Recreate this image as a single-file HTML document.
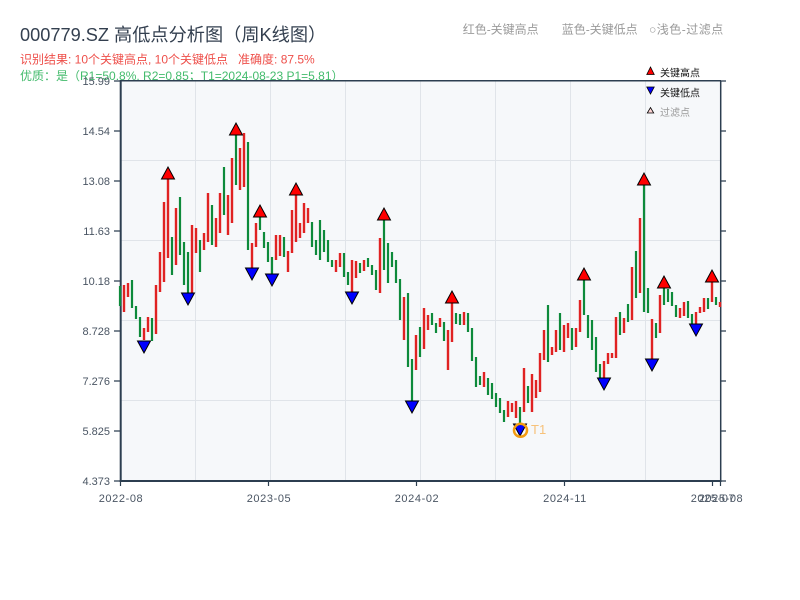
<!DOCTYPE html>
<html><head><meta charset="utf-8"><style>
html,body{margin:0;padding:0;background:#fff;width:800px;height:600px;overflow:hidden}
svg{display:block}
text{font-family:"Liberation Sans","Noto Sans CJK SC",sans-serif}
</style></head><body>
<svg width="800" height="600" viewBox="0 0 800 600" xmlns="http://www.w3.org/2000/svg">
<rect x="0" y="0" width="800" height="600" fill="#fff"/>
<text x="20" y="41" font-size="18.2" fill="#333f4f">000779.SZ 高低点分析图（周K线图）</text>
<text x="20" y="63.3" font-size="12" fill="#ee4f4a">识别结果: 10个关键高点, 10个关键低点 &#160;&#160;准确度: 87.5%</text>
<text x="20" y="80.2" font-size="12" fill="#43bb6c">优质：是（R1=50.8%, R2=0.85；T1=2024-08-23 P1=5.81）</text>
<text x="462.7" y="33.5" font-size="12" fill="#9a9a9a">红色-关键高点</text>
<text x="561.7" y="33.5" font-size="12" fill="#9a9a9a">蓝色-关键低点</text>
<text x="649" y="33.5" font-size="12" fill="#9a9a9a" letter-spacing="0.5">○浅色-过滤点</text>

<rect x="121" y="81" width="599" height="400" fill="#f6f8fa"/>
<path d="M195.5 81V481M270.5 81V481M345.5 81V481M420.5 81V481M495.5 81V481M570.5 81V481M645.5 81V481M121 160.5H720M121 240.5H720M121 320.5H720M121 400.5H720" stroke="#e0e4e9" stroke-width="1" fill="none"/>

<path d="M120.7 80V482" stroke="#2c3e50" stroke-width="2"/>
<path d="M119.7 481H721.5" stroke="#2c3e50" stroke-width="2"/>
<path d="M720.7 80.5V482M120 80.7H721" stroke="#2c3e50" stroke-width="1.5"/>
<path d="M114 81h6M114 131h6M114 181h6M114 231h6M114 281h6M114 331h6M114 381h6M114 431h6M114 481h6M721 81h5M721 131h5M721 181h5M721 231h5M721 281h5M721 331h5M721 381h5M721 431h5M721 481h5M120.5 481v5M268.5 481v5M416.5 481v5M564.5 481v5M712.5 481v5M720.5 481v5" stroke="#2c3e50" stroke-width="1.2" fill="none"/>

<g font-size="11" fill="#4a5563" text-anchor="end">
<text x="110" y="85">15.99</text><text x="110" y="135">14.54</text><text x="110" y="185">13.08</text><text x="110" y="235">11.63</text><text x="110" y="285">10.18</text><text x="110" y="335">8.728</text><text x="110" y="385">7.276</text><text x="110" y="435">5.825</text><text x="110" y="485">4.373</text>
</g>
<g font-size="11" fill="#4a5563" text-anchor="middle" letter-spacing="0.6">
<text x="121" y="502">2022-08</text><text x="269" y="502">2023-05</text><text x="417" y="502">2024-02</text><text x="565" y="502">2024-11</text><text x="713" y="502">2025-07</text><text x="721" y="502">2025-08</text>
</g>

<path stroke="#0d8a3a" stroke-width="2.2" fill="none" d="M120 286V306M132 280V308M136 306V319M140 317V337M152 318V341M172 237V275M180 197V255M184 242V285M188 252V293M200 240V272M212 205V245M224 167V215M236 135V185M248 142V250M260 217V230M264 232V248M268 242V262M272 257V274M284 237V257M312 222V247M316 240V255M320 220V260M324 230V252M328 240V262M332 260V267M344 253V277M348 272V285M360 263V273M368 258V267M372 265V275M376 270V290M384 220V270M388 243V283M392 252V267M396 260V283M400 279V320M408 293V367M412 359V401M420 327V357M432 313V325M436 323V333M444 322V341M456 313V324M460 314V325M468 313V332M472 328V361M476 357V387M480 376V385M488 378V395M492 383V399M496 393V407M500 398V413M504 410V422M520 407V424M528 386V403M548 305V362M560 313V350M572 328V350M584 280V315M588 315V338M592 320V350M596 337V372M600 364V378M620 312V335M628 304V322M636 251V298M644 185V312M648 288V313M656 323V338M664 288V305M668 289V302M672 292V306M676 305V317M688 301V318M692 314V324M708 298V309M716 297V305"/>

<path stroke="#e02222" stroke-width="2.4" fill="none" d="M124 285V312M128 283V297M144 328V340M148 317V332M156 285V334M160 252V292M164 202V282M168 178V258M176 208V265M192 225V293M196 228V253M204 233V250M208 193V242M216 218V247M220 193V233M228 195V235M232 158V223M240 148V190M244 133V187M252 243V268M256 223V247M276 235V260M280 235V256M288 251V272M292 210V253M296 195V242M300 223V238M304 203V233M308 208V223M336 260V272M340 253V267M352 260V292M356 261V278M364 260V271M380 238V293M404 297V340M416 335V370M424 308V349M428 315V330M440 318V327M448 330V370M452 303V342M464 312V325M484 372V387M508 401V417M512 403V412M516 401V418M524 368V412M532 374V412M536 380V398M540 353V392M544 330V360M552 347V355M556 330V352M564 325V352M568 323V338M576 328V347M580 300V332M604 361V378M608 353V364M612 353V358M616 317V358M624 318V333M632 267V320M640 218V293M652 319V359M660 295V333M680 308V318M684 302V316M696 312V324M700 307V313M704 298V312M712 282V302M720 302V307"/>

<path fill="#ff0000" stroke="#000" stroke-width="1" d="M161.5 179h13l-6.5 -12zM229.5 135h13l-6.5 -12zM253.5 217h13l-6.5 -12zM289.5 195h13l-6.5 -12zM377.5 220h13l-6.5 -12zM445.5 303h13l-6.5 -12zM577.5 280h13l-6.5 -12zM637.5 185h13l-6.5 -12zM657.5 288h13l-6.5 -12zM705.5 282h13l-6.5 -12z"/>
<path fill="#0000ff" stroke="#000" stroke-width="1" d="M137.5 341h13l-6.5 12zM181.5 293h13l-6.5 12zM245.5 268h13l-6.5 12zM265.5 274h13l-6.5 12zM345.5 292h13l-6.5 12zM405.5 401h13l-6.5 12zM513.5 424h13l-6.5 12zM597.5 378h13l-6.5 12zM645.5 359h13l-6.5 12zM689.5 324h13l-6.5 12z"/>

<circle cx="520.5" cy="430.3" r="6.5" fill="none" stroke="#f39c12" stroke-width="2.5"/>
<text x="531" y="434" font-size="13" fill="#f7c27a">T1</text>

<path d="M646.8 74.5h7.4l-3.7 -7.5z" fill="#ff0000" stroke="#000" stroke-width="0.8"/>
<text x="660" y="76.5" font-size="10" fill="#111">关键高点</text>
<path d="M646.8 87h7.4l-3.7 7z" fill="#0000ff" stroke="#000" stroke-width="0.8"/>
<text x="660" y="96.3" font-size="10" fill="#111">关键低点</text>
<path d="M647.3 113h6.4l-3.2 -5.5z" fill="#ffd6d6" stroke="#000" stroke-width="0.8"/>
<text x="660" y="116" font-size="10" fill="#999">过滤点</text>
</svg>
</body></html>
